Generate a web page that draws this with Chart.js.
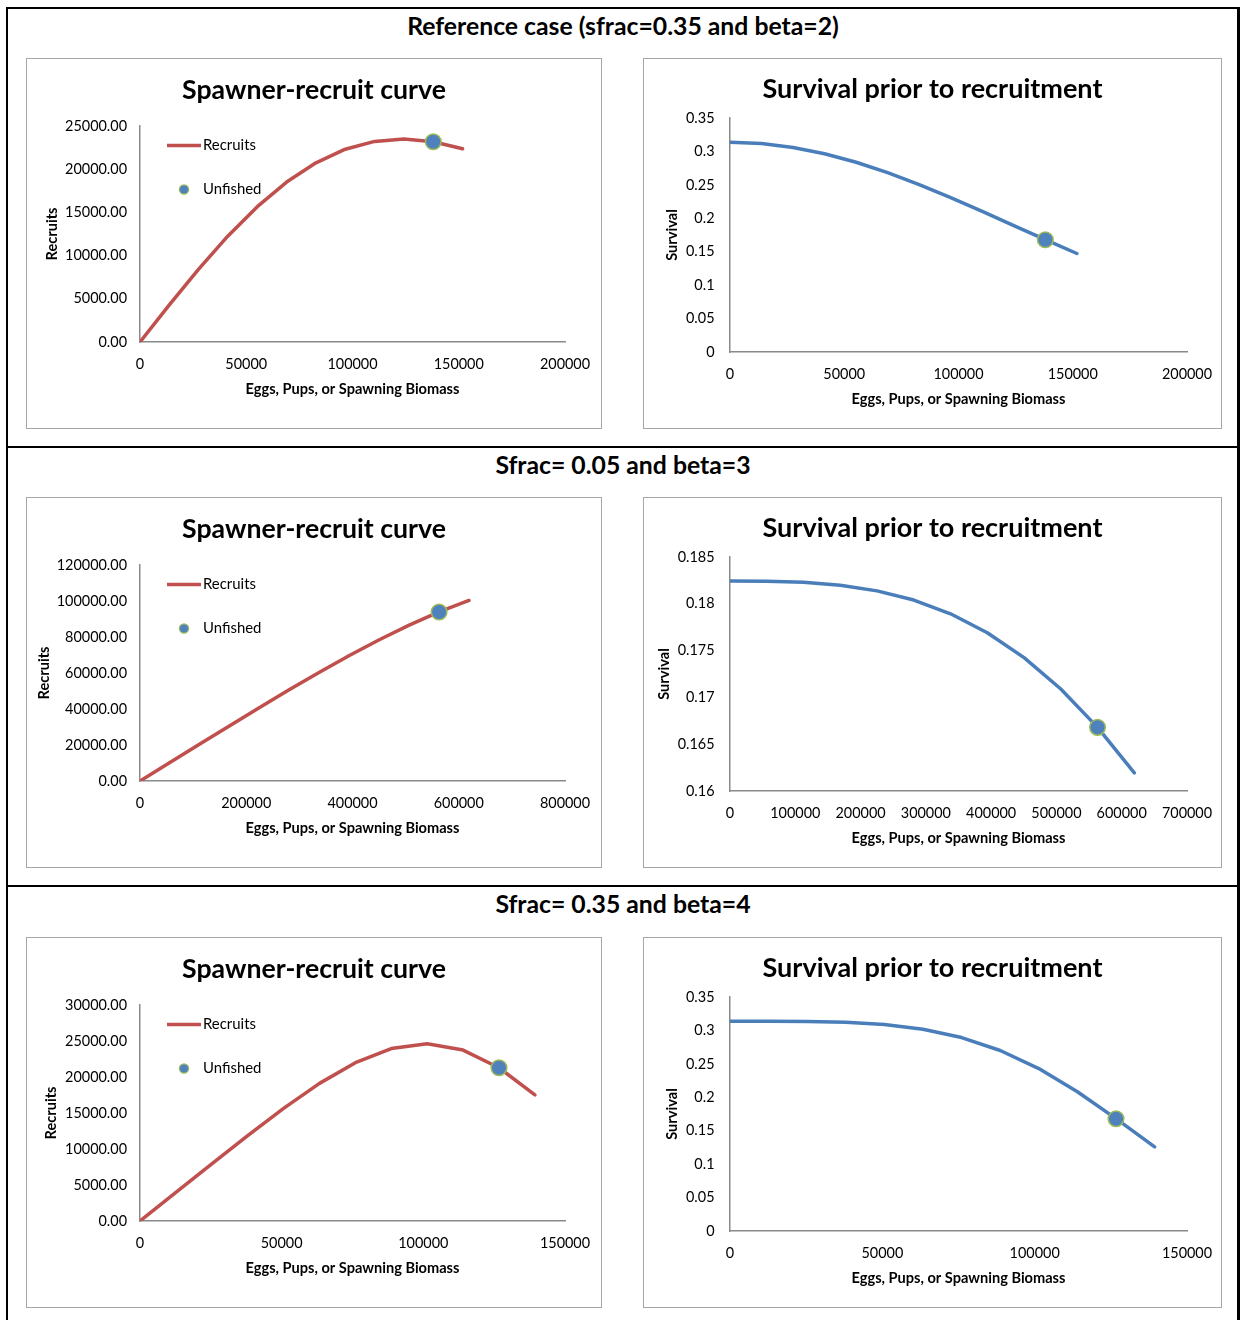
<!DOCTYPE html>
<html>
<head>
<meta charset="utf-8">
<title>Spawner-recruit and survival curves</title>
<script src="https://cdn.jsdelivr.net/npm/chart.js@4.4.1/dist/chart.umd.min.js"></script>
<style>
  html, body { margin: 0; padding: 0; background: #fff; }
  body { width: 1240px; height: 1320px; position: relative; overflow: hidden; }
  .frame { position: absolute; left: 6px; top: 7px; width: 1234px; height: 1330px; box-sizing: border-box;
           border-left: 2px solid #000; border-top: 2px solid #000; border-right: 3px solid #000; }
  .rule { position: absolute; left: 6px; width: 1234px; height: 2px; background: #000; }
  .heading { position: absolute; left: 6px; width: 1234px; height: 30px; line-height: 30px; text-align: center;
             font-weight: bold; color: #000; white-space: nowrap; }
  .box { position: absolute; border: 1px solid #a6a6a6; box-sizing: border-box; background: #fff; }
  .box canvas { position: absolute; left: 0; top: 0; }
</style>
</head>
<body>
<div class="frame"></div>
<div class="rule" style="top:446px"></div>
<div class="rule" style="top:885px"></div>
<script>
// ---------- values ----------
// Case 1: sfrac = 0.35, beta = 2
const spawners1 = [0, 13800, 27600, 41400, 55200, 69000, 82800, 96600, 110400, 124200, 138000, 151800];
const recruits1 = [0, 4301, 8443, 12275, 15666, 18513, 20741, 22315, 23217, 23486, 23184, 22360];
const survival1 = [0.3136, 0.3117, 0.3059, 0.2965, 0.2838, 0.2683, 0.2505, 0.2310, 0.2103, 0.1891, 0.1680, 0.1473];
const unfished1 = { spawners: 138000, recruits: 23184, survival: 0.1680 };

// Case 2: sfrac = 0.05, beta = 3
const spawners2 = [0, 56300, 112600, 168900, 225200, 281500, 337800, 394100, 450400, 506700, 563000, 619300];
const recruits2 = [0, 10270, 20526, 30738, 40847, 50783, 60443, 69720, 78482, 86594, 93908, 100283];
const survival2 = [0.18243, 0.18241, 0.18229, 0.18199, 0.18138, 0.18040, 0.17893, 0.17691, 0.17425, 0.17090, 0.16680, 0.16193];
const unfished2 = { spawners: 563000, recruits: 93908, survival: 0.16680 };

// Case 3: sfrac = 0.35, beta = 4
const spawners3 = [0, 12670, 25340, 38010, 50680, 63350, 76020, 88690, 101360, 114030, 126700, 139370];
const recruits3 = [0, 3973, 7939, 11863, 15645, 19113, 21993, 23946, 24620, 23741, 21286, 17519];
const survival3 = [0.3137, 0.3136, 0.3133, 0.3121, 0.3087, 0.3017, 0.2893, 0.2700, 0.2429, 0.2082, 0.1680, 0.1257];
const unfished3 = { spawners: 126700, recruits: 21286, survival: 0.1680 };

// tick values
const biomassTicks1 = [0, 50000, 100000, 150000, 200000];
const recruitTicks1 = [0, 5000, 10000, 15000, 20000, 25000];
const survivalTicks1 = [0, 0.05, 0.1, 0.15, 0.2, 0.25, 0.3, 0.35];
const biomassTicks2SR = [0, 200000, 400000, 600000, 800000];
const biomassTicks2Surv = [0, 100000, 200000, 300000, 400000, 500000, 600000, 700000];
const recruitTicks2 = [0, 20000, 40000, 60000, 80000, 100000, 120000];
const survivalTicks2 = [0.16, 0.165, 0.17, 0.175, 0.18, 0.185];
const biomassTicks3 = [0, 50000, 100000, 150000];
const recruitTicks3 = [0, 5000, 10000, 15000, 20000, 25000, 30000];
const survivalTicks3 = [0, 0.05, 0.1, 0.15, 0.2, 0.25, 0.3, 0.35];

// text
const headings = ['Reference case (sfrac=0.35 and beta=2)', 'Sfrac= 0.05 and beta=3', 'Sfrac= 0.35 and beta=4'];
const srTitle = 'Spawner-recruit curve';
const survTitle = 'Survival prior to recruitment';
const xTitle = 'Eggs, Pups, or Spawning Biomass';
const recruitsLabel = 'Recruits';
const survivalLabel = 'Survival';
const unfishedLabel = 'Unfished';

// ---------- styling ----------
const FAMILY = 'Lato, "Open Sans", "Liberation Sans", sans-serif';
const RED = '#c0504d';
const BLUE = '#4a7ebb';
const DOT_FILL = '#4f81bd';
const DOT_EDGE = '#9bbb59';
const AXIS = '#8a8a8a';

// font sizes chosen so the strings span the widths they occupy on the page
const measure = document.createElement('canvas').getContext('2d');
function fitSize(text, weight, width) {
  measure.font = weight + ' 100px ' + FAMILY;
  return 100 * width / measure.measureText(text).width;
}
const headingSize = fitSize(headings[0], 'bold', 432);
const srTitleSize = fitSize(srTitle, 'bold', 264);
const survTitleSize = fitSize(survTitle, 'bold', 340);
const tickSize = fitSize('25000.00', 'normal', 62);
const axisTitleSize = fitSize(xTitle, 'bold', 214);
const legendSize = fitSize(recruitsLabel, 'normal', 53);

Chart.defaults.font.family = FAMILY;
Chart.defaults.color = '#000';

// section headings
[26, 465, 904].forEach((cy, i) => {
  const d = document.createElement('div');
  d.className = 'heading';
  d.style.top = (cy - 15) + 'px';
  d.style.fontFamily = FAMILY;
  d.style.fontSize = headingSize + 'px';
  d.textContent = headings[i];
  document.body.appendChild(d);
});

// legend drawn inside the plot area, Excel style
const insideLegend = {
  id: 'insideLegend',
  afterDatasetsDraw(chart, args, o) {
    if (!o || !o.display) return;
    const { ctx, chartArea } = chart;
    ctx.save();
    ctx.font = legendSize + 'px ' + FAMILY;
    ctx.textBaseline = 'middle';
    ctx.textAlign = 'left';
    ctx.fillStyle = '#000';
    chart.data.datasets.forEach((ds, i) => {
      const y = chartArea.top + o.rows[i];
      const x0 = chartArea.left + o.symbolStart;
      const x1 = chartArea.left + o.symbolEnd;
      if (ds.showLine) {
        ctx.beginPath();
        ctx.strokeStyle = ds.borderColor;
        ctx.lineWidth = ds.borderWidth;
        ctx.moveTo(x0, y);
        ctx.lineTo(x1, y);
        ctx.stroke();
      } else {
        ctx.beginPath();
        ctx.arc((x0 + x1) / 2, y, o.dotRadius, 0, Math.PI * 2);
        ctx.fillStyle = ds.backgroundColor;
        ctx.fill();
        ctx.lineWidth = 1.2;
        ctx.strokeStyle = ds.borderColor;
        ctx.stroke();
        ctx.fillStyle = '#000';
      }
      ctx.fillText(ds.label, chartArea.left + o.textStart, y);
    });
    ctx.restore();
  }
};

function pairs(xs, ys) { return xs.map((x, i) => ({ x: x, y: ys[i] })); }
function tickObjects(values) { return values.map(v => ({ value: v })); }

function makeChart(c) {
  const box = document.createElement('div');
  box.className = 'box';
  box.style.left = c.left + 'px';
  box.style.top = c.top + 'px';
  box.style.width = c.w + 'px';
  box.style.height = c.h + 'px';
  const cv = document.createElement('canvas');
  const cw = c.w - 2, ch = c.h - 2;
  cv.width = cw; cv.height = ch;
  cv.style.width = cw + 'px'; cv.style.height = ch + 'px';
  box.appendChild(cv);
  document.body.appendChild(box);

  const g = c.geom;
  const titleLH = c.titleSize * 1.2;
  const tickLH = tickSize * 1.2;
  const axLH = axisTitleSize * 1.2;
  const titleTop = g.titleY - titleLH / 2;

  return new Chart(cv, {
    type: 'scatter',
    data: {
      datasets: [
        {
          label: c.lineLabel,
          data: pairs(c.xs, c.ys),
          showLine: true,
          borderColor: c.lineColor,
          backgroundColor: c.lineColor,
          borderWidth: 3.5,
          pointRadius: 0,
          pointHoverRadius: 0,
          tension: 0,
          borderJoinStyle: 'round',
          borderCapStyle: 'round',
          order: 1
        },
        {
          label: unfishedLabel,
          data: [{ x: c.dot.x, y: c.dot.y }],
          showLine: false,
          pointRadius: 7.8,
          pointHoverRadius: 7.8,
          pointBackgroundColor: DOT_FILL,
          backgroundColor: DOT_FILL,
          pointBorderColor: DOT_EDGE,
          borderColor: DOT_EDGE,
          pointBorderWidth: 1.5,
          order: 0
        }
      ]
    },
    options: {
      responsive: false,
      animation: false,
      events: [],
      layout: { padding: 0 },
      plugins: {
        legend: { display: false },
        tooltip: { enabled: false },
        title: {
          display: true,
          text: c.title,
          color: '#000',
          font: { size: c.titleSize, weight: 'bold', family: FAMILY, lineHeight: 1.2 },
          padding: { top: titleTop, bottom: g.plotTop - titleTop - titleLH }
        },
        insideLegend: c.legend
      },
      scales: {
        x: {
          type: 'linear',
          position: 'bottom',
          min: c.xTicks[0],
          max: c.xTicks[c.xTicks.length - 1],
          afterBuildTicks: s => { s.ticks = tickObjects(c.xTicks); },
          afterFit: s => {
            s.height = ch - g.plotBottom;
            // end labels may overhang the plot; they fit inside the side strips
            s.paddingLeft = 0;
            s.paddingRight = 0;
          },
          grid: { display: false, drawTicks: false },
          border: { display: true, color: AXIS, width: 1.5 },
          ticks: {
            autoSkip: false, maxRotation: 0, minRotation: 0,
            padding: g.xTickY - g.plotBottom - tickLH / 2,
            color: '#000',
            font: { size: tickSize, family: FAMILY, lineHeight: 1.2 },
            callback: v => String(v)
          },
          title: {
            display: true, text: xTitle, color: '#000',
            font: { size: axisTitleSize, weight: 'bold', family: FAMILY, lineHeight: 1.2 },
            padding: { top: 0, bottom: ch - g.xTitleY - axLH / 2 }
          }
        },
        y: {
          type: 'linear',
          position: 'left',
          min: c.yTicks[0],
          max: c.yTicks[c.yTicks.length - 1],
          afterBuildTicks: s => { s.ticks = tickObjects(c.yTicks); },
          afterFit: s => { s.width = g.plotLeft; s.paddingTop = 0; s.paddingBottom = 0; },
          grid: { display: false, drawTicks: false },
          border: { display: true, color: AXIS, width: 1.5 },
          ticks: {
            padding: g.plotLeft - g.yTickEnd,
            color: '#000',
            font: { size: tickSize, family: FAMILY, lineHeight: 1.2 },
            callback: c.yFormat
          },
          title: {
            display: true, text: c.yTitle, color: '#000',
            font: { size: axisTitleSize, weight: 'bold', family: FAMILY, lineHeight: 1.2 },
            padding: { top: c.yTitleX - axLH / 2, bottom: 0 }
          }
        },
        // empty strip that keeps the plot clear of the right edge
        edge: {
          type: 'linear',
          position: 'right',
          display: true,
          min: 0, max: 1,
          afterFit: s => { s.width = cw - g.plotRight; s.paddingTop = 0; s.paddingBottom = 0; },
          grid: { display: false, drawTicks: false },
          border: { display: false },
          ticks: { display: false }
        }
      }
    },
    plugins: [insideLegend]
  });
}

const fixed2 = v => Number(v).toFixed(2);
const general = v => String(Number(Number(v).toFixed(4)));

// plot geometry inside each box (canvas pixels)
const srGeom = { plotLeft: 113, plotRight: 538, plotTop: 67, plotBottom: 283,
                 titleY: 31, yTickEnd: 100, xTickY: 305, xTitleY: 330 };
const survGeom = { plotLeft: 86, plotRight: 543, plotTop: 59, plotBottom: 293,
                   titleY: 30.3, yTickEnd: 70.5, xTickY: 315, xTitleY: 340 };
const srLegend = { display: true, symbolStart: 27, symbolEnd: 61, textStart: 63, rows: [19.5, 63.5], dotRadius: 4.6 };

const rowTops = [58, 497, 937];
const cases = [
  { xs: spawners1, rec: recruits1, surv: survival1, dot: unfished1,
    srX: biomassTicks1, srY: recruitTicks1, svX: biomassTicks1, svY: survivalTicks1, srYT: 25, svYT: 28.6 },
  { xs: spawners2, rec: recruits2, surv: survival2, dot: unfished2,
    srX: biomassTicks2SR, srY: recruitTicks2, svX: biomassTicks2Surv, svY: survivalTicks2, srYT: 17.3, svYT: 20.7 },
  { xs: spawners3, rec: recruits3, surv: survival3, dot: unfished3,
    srX: biomassTicks3, srY: recruitTicks3, svX: biomassTicks3, svY: survivalTicks3, srYT: 24.4, svYT: 28.6 }
];

cases.forEach((k, i) => {
  makeChart({
    left: 26, top: rowTops[i], w: 576, h: 371, geom: srGeom,
    title: srTitle, titleSize: srTitleSize,
    lineLabel: recruitsLabel, lineColor: RED,
    xs: k.xs, ys: k.rec, dot: { x: k.dot.spawners, y: k.dot.recruits },
    xTicks: k.srX, yTicks: k.srY, yFormat: fixed2,
    yTitle: recruitsLabel, yTitleX: k.srYT,
    legend: srLegend
  });
  makeChart({
    left: 643, top: rowTops[i], w: 579, h: 371, geom: survGeom,
    title: survTitle, titleSize: survTitleSize,
    lineLabel: survivalLabel, lineColor: BLUE,
    xs: k.xs, ys: k.surv, dot: { x: k.dot.spawners, y: k.dot.survival },
    xTicks: k.svX, yTicks: k.svY, yFormat: general,
    yTitle: survivalLabel, yTitleX: k.svYT,
    legend: { display: false }
  });
});
</script>
</body>
</html>
